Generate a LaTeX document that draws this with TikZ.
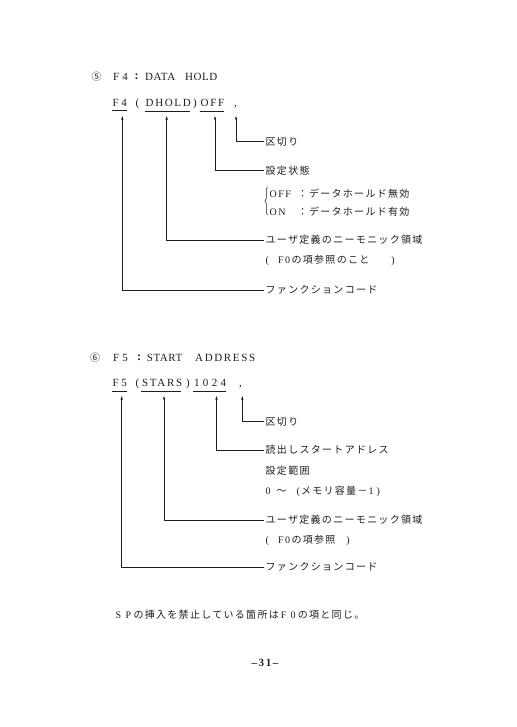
\documentclass[tikz,border=0pt]{standalone}
\usepackage{fontspec}
\setmainfont{Liberation Serif}
\newfontfamily\jp{Noto Sans CJK JP}[LetterSpace=13]
\newfontfamily\lt{Liberation Serif}[LetterSpace=15]
\newfontfamily\ltw{Liberation Serif}[LetterSpace=30]
\newfontfamily\ltt{Liberation Serif}[LetterSpace=5]
\usetikzlibrary{arrows.meta,calc,decorations.pathreplacing}
\definecolor{ink}{HTML}{1E1E1E}
\newcommand{\cell}[2]{\makebox[#1][c]{\lt #2}}
\tikzset{
  tok/.style={inner sep=0pt, anchor=base west, text=ink, font=\lt\fontsize{11}{13}\selectfont},
  wtok/.style={inner sep=0pt, anchor=base west, text=ink, font=\ltw\fontsize{11}{13}\selectfont},
  ttok/.style={inner sep=0pt, anchor=base west, text=ink, font=\ltt\fontsize{11}{13}\selectfont},
  jtok/.style={inner sep=0pt, text=ink, font=\jp\fontsize{10}{12}\selectfont},
  ctok/.style={inner sep=0pt, text=ink, font=\lt\fontsize{12}{13}\selectfont\bfseries},
  lab/.style={inner xsep=1.5pt, inner ysep=0pt, anchor=west, text=ink, font=\jp\fontsize{10}{12}\selectfont},
  note/.style={inner sep=0pt, anchor=west, text=ink, font=\jp\fontsize{10}{12}\selectfont},
  lead/.style={draw=ink, line width=0.6pt, -{Stealth[length=4pt,width=2.4pt]}},
  uline/.style={draw=ink, line width=0.6pt},
  bracepath/.style={draw=ink, line width=0.5pt, decorate, decoration={brace,amplitude=2.5pt}}
}
\begin{document}
\begin{tikzpicture}[x=1pt,y=-1pt]
\useasboundingbox (0,0) rectangle (516,727);

% ---------- Section 5 ----------
\node[jtok] (c5) at (96.5,77) {⑤};
\node[ttok] (h1f) at (113,80.5) {F\kern3pt 4};
\node[ctok] (h1c) at (136.7,77) {:};
\node[ttok] (h1a) at (145,80.5) {DATA};
\node[ttok] (h1b) at (185,80.5) {HOLD};

\node[tok] (f4) at (112.5,106.5) {F\kern2.5pt 4};
\node[tok] (lp1) at (135.5,106.5) {(};
\node[tok] (dhold) at (145.5,106.5) {DHOLD};
\node[tok] (rp1) at (193,106.5) {)};
\node[tok] (off) at (200.5,106.5) {OFF};
\node[tok] (cm1) at (234,106.5) {,};

\draw[uline] ($(f4.south west)+(-1pt,-4pt)$) -- ($(f4.south east)+(-0.5pt,-4pt)$);
\draw[uline] ($(dhold.south west)+(-1pt,-4pt)$) -- ($(dhold.south east)+(-1pt,-4pt)$);
\draw[uline] ($(off.south west)+(-1pt,-4pt)$) -- ($(off.south east)+(0pt,-4pt)$);

\coordinate (a1) at (122.3,116);
\coordinate (a2) at (166.7,116);
\coordinate (a3) at (215,116);
\coordinate (a4) at (236,116);

\node[lab] (l1a) at (264,141.5) {区切り};
\node[lab] (l1b) at (264,170.5) {設定状態};
\node[lab] (l1c) at (268,193.3) {\makebox[28pt][l]{\lt OFF}：データホールド無効};
\node[lab] (l1d) at (268,211.7) {\makebox[28pt][l]{\lt ON}：データホールド有効};
\node[lab] (l1e) at (264,240) {ユーザ定義のニーモニック領域};
\node[lab] (l1f) at (264,260) {{\lt (}\hspace{9pt}{\lt F0}\hspace{1.5pt}の項参照のこと\hspace{22pt}{\lt )}};
\node[lab] (l1g) at (264,290) {ファンクションコード};

\draw[lead] (l1a.west) -| (a4);
\draw[lead] (l1b.west) -| (a3);
\draw[lead] (l1e.west) -| (a2);
\draw[lead] (l1g.west) -| (a1);

\coordinate (br1b) at (267.5,215);
\coordinate (br1t) at (267.5,187);
\draw[bracepath] (br1b) -- (br1t);

% ---------- Section 6 ----------
\node[jtok] (c6) at (95,358) {⑥};
\node[ttok] (h2f) at (113,361.5) {F\kern3pt 5};
\node[ctok] (h2c) at (139,358) {:};
\node[ttok] (h2a) at (146.7,361.5) {START};
\node[tok] (h2b) at (195,361.5) {ADDRESS};

\node[tok] (f5) at (112.5,386.5) {F\kern2.5pt 5};
\node[tok] (lp2) at (135.5,386.5) {(};
\node[tok] (stars) at (142,386.5) {STARS};
\node[tok] (rp2) at (186,386.5) {)};
\node[wtok] (n1024) at (194,386.5) {1024};
\node[tok] (cm2) at (239,386.5) {,};

\draw[uline] ($(f5.south west)+(-1pt,-4pt)$) -- ($(f5.south east)+(-0.5pt,-4pt)$);
\draw[uline] ($(stars.south west)+(-1pt,-4pt)$) -- ($(stars.south east)+(-1pt,-4pt)$);
\draw[uline] ($(n1024.south west)+(-1pt,-4pt)$) -- ($(n1024.south east)+(0pt,-4pt)$);

\coordinate (b1) at (121.7,396);
\coordinate (b2) at (164,396);
\coordinate (b3) at (216.5,396);
\coordinate (b4) at (242.3,396);

\node[lab] (l2a) at (264,421.7) {区切り};
\node[lab] (l2b) at (264,450) {読出しスタートアドレス};
\node[lab] (l2c) at (264,470.5) {設定範囲};
\node[lab] (l2d) at (264,491.7) {\makebox[11pt][l]{\lt 0}～\hspace{10pt}{\lt (}\hspace{1pt}メモリ容量－\hspace{1pt}{\lt 1}\hspace{3pt}{\lt )}};
\node[lab] (l2e) at (264,520) {ユーザ定義のニーモニック領域};
\node[lab] (l2f) at (264,540) {{\lt (}\hspace{9pt}{\lt F0}\hspace{1.5pt}の項参照\hspace{11pt}{\lt )}};
\node[lab] (l2g) at (264,567) {ファンクションコード};

\draw[lead] (l2a.west) -| (b4);
\draw[lead] (l2b.west) -| (b3);
\draw[lead] (l2e.west) -| (b2);
\draw[lead] (l2g.west) -| (b1);

% ---------- footer ----------
\node[note] (foot) at (113.3,615) {\cell{10pt}{S}\cell{10pt}{P}の挿入を禁止している箇所は\cell{9.5pt}{F}\cell{9.5pt}{0}の項と同じ。};
\node[inner sep=0pt, text=ink, font=\lt\fontsize{11}{13}\selectfont\bfseries] (pg) at (265,663) {–31–};
\end{tikzpicture}
\end{document}
